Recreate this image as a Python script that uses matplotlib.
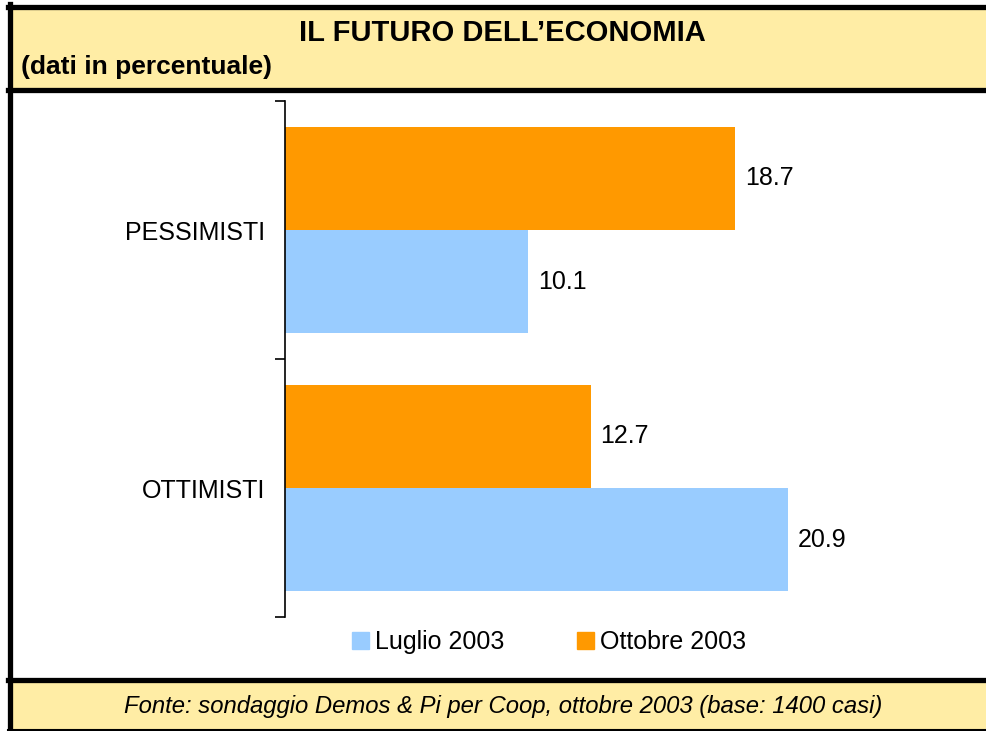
import matplotlib.pyplot as plt
from matplotlib.patches import Rectangle, Patch
from matplotlib.lines import Line2D

plt.rcParams['font.family'] = ['Liberation Sans', 'DejaVu Sans']

# dati
categorie = ['OTTIMISTI', 'PESSIMISTI']
luglio = [20.9, 10.1]
ottobre = [12.7, 18.7]
serie = ['Luglio 2003', 'Ottobre 2003']
colori = ['#99CCFF', '#FF9900']

W, H = 987, 731
fig = plt.figure(figsize=(W / 100, H / 100), dpi=100)

def fy(py):
    return 1 - py / H

def fx(px):
    return px / W

# bande gialle (intestazione e fonte)
giallo = '#FFEDA5'
fig.patches.append(Rectangle((fx(10), fy(88)), 1, fy(7) - fy(88),
                             transform=fig.transFigure, color=giallo, zorder=0))
fig.patches.append(Rectangle((fx(10), fy(729)), 1, fy(680) - fy(729),
                             transform=fig.transFigure, color=giallo, zorder=0))

# cornici nere
for py, lw in [(6.5, 3.8), (89.5, 3.8), (679.5, 3.8), (729.5, 1.5)]:
    fig.add_artist(Line2D([fx(8), 1], [fy(py), fy(py)], color='black',
                          lw=lw, transform=fig.transFigure))
fig.add_artist(Line2D([fx(10.5), fx(10.5)], [fy(4), fy(731)], color='black',
                      lw=3.8, transform=fig.transFigure))

fig.text(fx(502), fy(33), 'IL FUTURO DELL\u2019ECONOMIA', ha='center', va='center',
         fontsize=21, fontweight='bold')
fig.text(fx(21), fy(67), '(dati in percentuale)', ha='left', va='center',
         fontsize=19, fontweight='bold')
fig.text(fx(503), fy(706), 'Fonte: sondaggio Demos & Pi per Coop, ottobre 2003 (base: 1400 casi)',
         ha='center', va='center', fontsize=17.2, style='italic')

# grafico
ax = fig.add_axes([fx(285), fy(617), fx(887) - fx(285), fy(101) - fy(617)])
y = list(range(len(categorie)))
h = 0.4
b1 = ax.barh([v - h / 2 for v in y], luglio, height=h, color=colori[0], label=serie[0])
b2 = ax.barh([v + h / 2 for v in y], ottobre, height=h, color=colori[1], label=serie[1])
for bars in (b1, b2):
    for r in bars:
        ax.text(r.get_width() + 0.4, r.get_y() + r.get_height() / 2,
                f'{r.get_width():.1f}', va='center', ha='left', fontsize=18)

ax.set_xlim(0, 25)
ax.set_ylim(-0.5, 1.5)
ax.set_yticks([-0.5, 0.5, 1.5])
ax.set_yticklabels([])
ax.set_yticks(y, minor=True)
ax.set_yticklabels(categorie, minor=True, fontsize=18)
ax.tick_params(axis='y', which='major', direction='out', length=7, width=1.2)
ax.tick_params(axis='y', which='minor', length=0, pad=14.5)
ax.set_xticks([])
for s in ['top', 'right', 'bottom']:
    ax.spines[s].set_visible(False)
ax.spines['left'].set_linewidth(1.2)
ax.patch.set_alpha(0)

handles = [Patch(color=colori[0]), Patch(color=colori[1])]
fig.legend(handles, serie, loc='center', bbox_to_anchor=(fx(549), fy(642)),
           ncol=2, frameon=False, fontsize=18, handlelength=0.68, handleheight=0.68,
           handletextpad=0.25, columnspacing=2.9)

fig.savefig('out.png', dpi=100)
